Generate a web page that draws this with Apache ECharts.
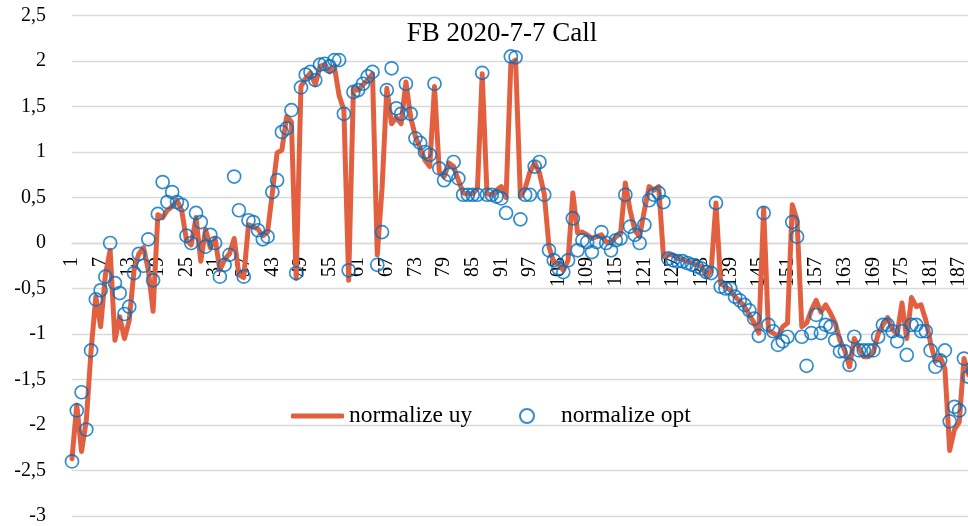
<!DOCTYPE html>
<html>
<head>
<meta charset="utf-8">
<script src="https://cdn.jsdelivr.net/npm/echarts@6/dist/echarts.min.js"></script>
<style>
html,body{margin:0;padding:0;background:#fff;}
#chart{width:968px;height:526px;}
</style>
</head>
<body>
<div id="chart"></div>
<script>
const titleText = 'FB 2020-7-7 Call';
const seriesNames = ['normalize uy', 'normalize opt'];
const yTicks = { min: -3, max: 2.5, interval: 0.5 };

const uy = [
 -2.37,-1.78,-2.29,-1.95,-1.18,-0.59,-0.92,-0.35,-0.08,-1.07,
 -0.81,-1.05,-0.85,-0.30,-0.12,-0.05,-0.30,-0.75,0.31,0.28,
 0.36,0.40,0.47,0.36,0.03,-0.02,0.28,-0.20,0.15,-0.05,
 0.05,-0.30,-0.18,-0.12,0.05,-0.35,-0.38,0.20,0.18,0.15,
 0.08,0.12,0.55,0.99,1.02,1.39,1.33,-0.39,1.72,1.81,
 1.87,1.74,1.94,1.96,1.88,1.94,1.62,1.46,-0.41,1.70,
 1.68,1.74,1.79,1.86,-0.13,0.60,1.70,1.31,1.38,1.31,
 1.77,1.38,1.17,1.04,0.91,0.84,1.72,0.78,0.73,0.88,
 0.84,0.69,0.55,0.54,0.54,0.60,1.86,0.54,0.53,0.58,
 0.62,0.50,1.97,2.01,0.51,0.60,0.78,0.88,0.77,0.54,
 -0.04,-0.22,-0.22,-0.30,-0.19,0.55,0.11,0.12,0.09,0.05,
 0.07,0.09,0.01,0.00,0.07,0.10,0.66,0.36,0.14,0.07,
 0.36,0.62,0.58,0.62,-0.15,-0.13,-0.13,-0.17,-0.18,-0.20,
 -0.22,-0.24,-0.26,-0.37,-0.30,0.44,-0.45,-0.48,-0.52,-0.59,
 -0.64,-0.70,-0.79,-0.88,-0.99,0.38,-0.96,-0.99,-1.03,-0.92,
 -0.88,0.42,0.25,-0.92,-0.88,-0.74,-0.63,-0.76,-0.68,-0.77,
 -0.88,-1.07,-1.18,-1.36,-1.05,-1.15,-1.25,-1.25,-1.20,-1.00,
 -0.90,-0.82,-0.95,-1.00,-0.66,-1.05,-0.60,-0.70,-0.68,-0.85,
 -1.10,-1.30,-1.25,-1.38,-2.28,-2.05,-1.97,-1.27,-1.45,-1.40,
 -1.40
];

const opt = [
 -2.40,-1.84,-1.64,-2.05,-1.18,-0.62,-0.52,-0.37,0.00,-0.44,
 -0.55,-0.78,-0.70,-0.33,-0.12,-0.25,0.04,-0.41,0.32,0.67,
 0.45,0.56,0.45,0.42,0.08,0.00,0.33,0.23,-0.04,0.09,
 0.00,-0.37,-0.24,-0.13,0.73,0.36,-0.37,0.25,0.23,0.14,
 0.04,0.07,0.56,0.69,1.22,1.26,1.46,-0.33,1.71,1.85,
 1.88,1.79,1.96,1.97,1.94,2.01,2.01,1.42,-0.30,1.66,
 1.68,1.75,1.83,1.88,-0.24,0.12,1.68,1.92,1.48,1.42,
 1.75,1.42,1.15,1.10,1.00,0.97,1.75,0.82,0.69,0.75,
 0.89,0.71,0.53,0.53,0.53,0.53,1.87,0.53,0.53,0.51,
 0.49,0.33,2.05,2.04,0.26,0.53,0.53,0.84,0.89,0.53,
 -0.08,-0.19,-0.28,-0.32,-0.19,0.27,-0.08,0.03,0.01,-0.10,
 0.01,0.12,0.00,-0.08,0.03,0.05,0.53,0.18,0.09,0.00,
 0.20,0.47,0.53,0.55,0.45,-0.17,-0.19,-0.20,-0.20,-0.22,
 -0.24,-0.26,-0.28,-0.32,-0.33,0.44,-0.48,-0.50,-0.50,-0.59,
 -0.63,-0.68,-0.74,-0.83,-1.02,0.33,-0.90,-0.97,-1.12,-1.08,
 -1.03,0.23,0.07,-1.03,-1.35,-0.99,-0.79,-0.99,-0.90,-0.92,
 -1.07,-1.19,-1.19,-1.34,-1.03,-1.18,-1.18,-1.18,-1.18,-1.03,
 -0.90,-0.90,-0.97,-1.08,-0.97,-1.23,-0.90,-0.90,-0.97,-0.97,
 -1.18,-1.36,-1.29,-1.18,-1.96,-1.80,-1.84,-1.27,-1.47,-1.40,
 -1.40
];

const categories = uy.map((_, i) => String(i + 1));

const FONT = '"Liberation Serif", "Times New Roman", serif';
const gridTop = 15.5, gridHeight = 500.5;
const zeroOffset = -gridHeight * (0 - yTicks.min) / (yTicks.max - yTicks.min);

const chart = echarts.init(document.getElementById('chart'));
chart.setOption({
  backgroundColor: '#fff',
  animation: false,
  title: {
    text: titleText, left: 497, top: 15, textAlign: 'center',
    textStyle: { fontFamily: FONT, fontSize: 27, fontWeight: 'normal', color: '#000' }
  },
  legend: [
    { data: [{ name: seriesNames[0], icon: 'roundRect' }], left: 286, top: 399, itemWidth: 53, itemHeight: 5, itemGap: 0,
      textStyle: { fontFamily: FONT, fontSize: 23.5, color: '#000', padding: [0, 0, 0, 0] } },
    { data: [seriesNames[1]], left: 514, top: 399, itemWidth: 14, itemHeight: 14, itemGap: 0,
      textStyle: { fontFamily: FONT, fontSize: 23.5, color: '#000', padding: [0, 0, 0, 22] } }
  ],
  grid: { left: 72, top: gridTop, height: gridHeight, width: (categories.length - 1) * 4.77,
          containLabel: false, outerBoundsMode: 'none' },
  xAxis: {
    type: 'category', data: categories, boundaryGap: false, offset: zeroOffset,
    axisLine: { onZero: false, lineStyle: { color: '#d9d9d9', width: 1.3 } },
    axisTick: { show: false },
    axisLabel: { interval: 5, rotate: 90, margin: 14, fontFamily: FONT, fontSize: 20, color: '#000' },
    splitLine: { show: false }
  },
  yAxis: {
    type: 'value', min: yTicks.min, max: yTicks.max, interval: yTicks.interval,
    axisLine: { show: false }, axisTick: { show: false },
    axisLabel: { margin: 26, fontFamily: FONT, fontSize: 20, color: '#000',
      formatter: v => String(v).replace('.', ',') },
    splitLine: { lineStyle: { color: '#d9d9d9', width: 1.3 } }
  },
  series: [
    { name: seriesNames[0], type: 'line', data: uy, symbol: 'none', showSymbol: false,
      lineStyle: { color: '#E2603F', width: 5, cap: 'round', join: 'round' },
      itemStyle: { color: '#E2603F' }, z: 2 },
    { name: seriesNames[1], type: 'scatter', data: opt, symbol: 'circle', symbolSize: 13,
      itemStyle: { color: 'rgba(255,255,255,0)', borderColor: '#0070C0', borderWidth: 1.7 }, z: 3 }
  ]
});
</script>
</body>
</html>
